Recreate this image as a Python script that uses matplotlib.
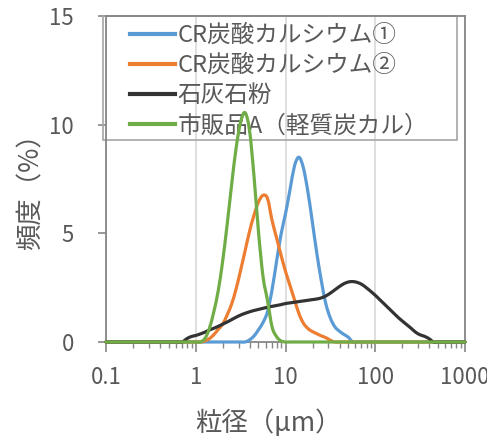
import matplotlib
matplotlib.use("Agg")
import numpy as np
import matplotlib.pyplot as plt
from matplotlib.path import Path
from matplotlib.patches import PathPatch, Rectangle
from matplotlib.lines import Line2D
from matplotlib.ticker import LogLocator, NullFormatter, FixedLocator, FixedFormatter

plt.rcParams['font.family'] = ['Noto Sans CJK JP', 'DejaVu Sans']

# particle size bins (um), 20 per decade
sizes = [
    0.1, 0.1122, 0.1259, 0.1413, 0.1585, 0.1778, 0.1995, 0.2239, 0.2512, 0.2818,
    0.3162, 0.3548, 0.3981, 0.4467, 0.5012, 0.5623, 0.631, 0.7079, 0.7943, 0.8913,
    1.0, 1.122, 1.259, 1.413, 1.585, 1.778, 1.995, 2.239, 2.512, 2.818,
    3.162, 3.548, 3.981, 4.467, 5.012, 5.623, 6.31, 7.079, 7.943, 8.913,
    10.0, 11.22, 12.59, 14.13, 15.85, 17.78, 19.95, 22.39, 25.12, 28.18,
    31.62, 35.48, 39.81, 44.67, 50.12, 56.23, 63.1, 70.79, 79.43, 89.13,
    100.0, 112.2, 125.9, 141.3, 158.5, 177.8, 199.5, 223.9, 251.2, 281.8,
    316.2, 354.8, 398.1, 446.7, 501.2, 562.3, 631.0, 707.9, 794.3, 891.3,
    1000.0,
]

cr1 = [
    0, 0, 0, 0, 0, 0, 0, 0, 0, 0,
    0, 0, 0, 0, 0, 0, 0, 0, 0, 0,
    0, 0, 0, 0, 0, 0, 0, 0, 0, 0,
    0, 0, 0.1, 0.28, 0.57, 0.9, 1.4, 2.4, 3.7, 4.95,
    5.9, 7.0, 8.1, 8.5, 8.0, 6.9, 5.5, 4.05, 2.8, 1.75,
    1.1, 0.7, 0.5, 0.35, 0.22, 0, 0, 0, 0, 0,
    0, 0, 0, 0, 0, 0, 0, 0, 0, 0,
    0, 0, 0, 0, 0, 0, 0, 0, 0, 0,
    0,
]

cr2 = [
    0, 0, 0, 0, 0, 0, 0, 0, 0, 0,
    0, 0, 0, 0, 0, 0, 0, 0, 0, 0,
    0, 0, 0.05, 0.15, 0.33, 0.58, 0.82, 1.25, 1.75, 2.45,
    3.3, 4.2, 5.1, 5.85, 6.45, 6.75, 6.6, 5.6, 4.8, 4.0,
    3.25, 2.6, 1.95, 1.3, 0.86, 0.62, 0.48, 0.38, 0.28, 0.2,
    0.08, 0, 0, 0, 0, 0, 0, 0, 0, 0,
    0, 0, 0, 0, 0, 0, 0, 0, 0, 0,
    0, 0, 0, 0, 0, 0, 0, 0, 0, 0,
    0,
]

limestone = [
    0, 0, 0, 0, 0, 0, 0, 0, 0, 0,
    0, 0, 0, 0, 0, 0, 0, 0, 0.15, 0.25,
    0.3, 0.37, 0.45, 0.55, 0.63, 0.72, 0.82, 0.92, 1.03, 1.14,
    1.24, 1.32, 1.39, 1.45, 1.5, 1.55, 1.6, 1.64, 1.68, 1.72,
    1.77, 1.8, 1.83, 1.86, 1.89, 1.92, 1.95, 1.98, 2.03, 2.12,
    2.25, 2.4, 2.55, 2.68, 2.76, 2.78, 2.74, 2.65, 2.5, 2.33,
    2.15, 1.95, 1.75, 1.55, 1.35, 1.15, 0.97, 0.8, 0.63, 0.45,
    0.33, 0.26, 0.15, 0, 0, 0, 0, 0, 0, 0,
    0,
]

market_a = [
    0, 0, 0, 0, 0, 0, 0, 0, 0, 0,
    0, 0, 0, 0, 0, 0, 0, 0, 0, 0,
    0, 0, 0.15, 0.6, 1.37, 2.35, 3.72, 5.41, 7.25, 8.93,
    10.12, 10.55, 9.71, 7.58, 5.02, 3.0, 1.9, 0.7, 0.25, 0.05,
    0, 0, 0, 0, 0, 0, 0, 0, 0, 0,
    0, 0, 0, 0, 0, 0, 0, 0, 0, 0,
    0, 0, 0, 0, 0, 0, 0, 0, 0, 0,
    0, 0, 0, 0, 0, 0, 0, 0, 0, 0,
    0,
]

series_labels = ["CR炭酸カルシウム①", "CR炭酸カルシウム②", "石灰石粉", "市販品A（軽質炭カル）"]
series_colors = ["#5B9BD5", "#ED7D31", "#333333", "#70AD47"]

x_ticks = [0.1, 1, 10, 100, 1000]
x_ticklabels = ["0.1", "1", "10", "100", "1000"]
y_ticks = [0, 5, 10, 15]


def smoothed_path(xs, ys):
    """Smoothed (Excel-like) line through the data points, in data coordinates."""
    lx = np.log10(np.asarray(xs, float))
    yy = np.asarray(ys, float)
    pts = np.column_stack([lx, yy])
    n = len(pts)
    verts = [pts[0]]
    codes = [Path.MOVETO]
    for i in range(n - 1):
        p0 = pts[max(i - 1, 0)]
        p1 = pts[i]
        p2 = pts[i + 1]
        p3 = pts[min(i + 2, n - 1)]
        c1 = p1 + (p2 - p0) / 6.0
        c2 = p2 - (p3 - p1) / 6.0
        verts += [c1, c2, p2]
        codes += [Path.CURVE4] * 3
    verts = np.array(verts)
    verts[:, 0] = 10 ** verts[:, 0]
    return Path(verts, codes)


fig = plt.figure(figsize=(4.87, 4.40), dpi=100)
ax = fig.add_axes([106/487, 1-342/440, (465-106)/487, (342-16)/440])

handles = []
for data, lab, col in zip([cr1, cr2, limestone, market_a], series_labels, series_colors):
    patch = PathPatch(smoothed_path(sizes, data), facecolor='none', edgecolor=col,
                      lw=2.3, capstyle='round', joinstyle='round', zorder=3,
                      transform=ax.transData, clip_on=False)
    ax.add_patch(patch)
    handles.append(Line2D([], [], color=col, lw=3, label=lab))

ax.set_xscale('log')
ax.set_xlim(0.1, 1000)
ax.set_ylim(0, 15)
ax.xaxis.set_major_locator(FixedLocator(x_ticks))
ax.xaxis.set_major_formatter(FixedFormatter(x_ticklabels))
ax.xaxis.set_minor_locator(LogLocator(base=10, subs=range(2, 10), numticks=20))
ax.xaxis.set_minor_formatter(NullFormatter())
ax.set_yticks(y_ticks)

ax.grid(True, which='major', axis='x', color='#D9D9D9', lw=1.2, zorder=0)
ax.set_axisbelow(True)

gray = '#868686'
for s in ax.spines.values():
    s.set_color(gray)
    s.set_linewidth(1.3)

ax.tick_params(axis='both', which='major', direction='out', color=gray, width=1.2,
               labelcolor='#595959', labelsize=16)
ax.tick_params(axis='x', which='major', length=7, pad=10)
ax.tick_params(axis='y', which='major', length=6, pad=17)
ax.tick_params(axis='x', which='minor', direction='out', length=4, color=gray, width=1.0)

ax.set_xlabel("粒径（μm）", fontsize=19, color='#595959')
ax.xaxis.label.set_verticalalignment('center')
ax.xaxis.set_label_coords((268-106)/359, (342-423)/326)
ax.set_ylabel("頻度（%）", fontsize=19, color='#595959')
ax.yaxis.label.set_verticalalignment('center')
ax.yaxis.set_label_coords((31-106)/359, (342-185)/326)

# legend frame
frame = Rectangle(((103-106)/359, (342-140)/326), (457-103)/359, (140-16)/326,
                  transform=ax.transAxes, facecolor='none', edgecolor='#A6A6A6',
                  lw=1.2, zorder=1, clip_on=False)
ax.add_patch(frame)

leg = ax.legend(handles=handles, loc='upper left',
                bbox_to_anchor=((130-106)/359, (342-24)/326),
                borderaxespad=0, borderpad=0, fontsize=17, frameon=False,
                handlelength=1.9, handletextpad=0.12, labelspacing=0.3)
leg.set_zorder(1)
for t in leg.get_texts():
    t.set_color('#595959')

fig.savefig("out.png", dpi=100)
